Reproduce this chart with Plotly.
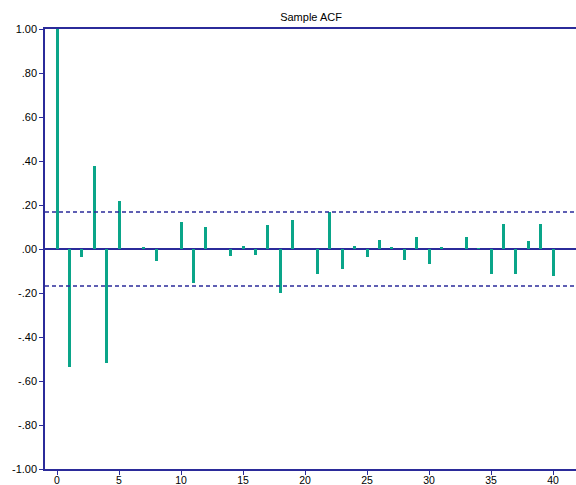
import plotly.graph_objects as go

# Sample autocorrelations by lag
lags = list(range(0, 41))
acf = [1.000, -0.535, -0.038, 0.379, -0.517, 0.218, 0.000, 0.009, -0.053, 0.000,
       0.123, -0.156, 0.101, 0.000, -0.033, 0.015, -0.027, 0.108, -0.198, 0.133,
       0.000, -0.112, 0.168, -0.092, 0.015, -0.038, 0.042, 0.009, -0.048, 0.053,
       -0.070, 0.009, 0.000, 0.053, 0.004, -0.112, 0.112, -0.112, 0.036, 0.112,
       -0.124]
conf_bound = 0.168

y_tickvals = [1.0, 0.8, 0.6, 0.4, 0.2, 0.0, -0.2, -0.4, -0.6, -0.8, -1.0]
y_ticktext = ["1.00", ".80", ".60", ".40", ".20", ".00", "-.20", "-.40", "-.60", "-.80", "-1.00"]
x_tickvals = [0, 5, 10, 15, 20, 25, 30, 35, 40]

navy = "#2b2b9a"
teal = "#0aa589"

fig = go.Figure()
fig.add_trace(go.Bar(x=lags, y=acf, width=0.24, marker=dict(color=teal, line=dict(width=0)),
                     showlegend=False))

for b in (conf_bound, -conf_bound):
    fig.add_shape(type="line", xref="paper", x0=0, x1=1, yref="y", y0=b, y1=b,
                  line=dict(color=navy, width=1.4, dash="4px,3px"))

fig.update_layout(
    width=576, height=485,
    margin=dict(l=45, r=0, t=29, b=16),
    paper_bgcolor="white", plot_bgcolor="white",
    font=dict(family="Liberation Sans, Arial, sans-serif", size=11, color="black"),
    title=dict(text="Sample ACF", x=0.54, xanchor="center", y=0.965, yanchor="middle",
               font=dict(size=11)),
    bargap=0,
    xaxis=dict(range=[-0.97, 41.85], tickvals=x_tickvals, showgrid=False, zeroline=False,
               showline=True, linecolor=navy, linewidth=1.5, mirror=True, automargin=False,
               ticks="outside", ticklen=4, tickcolor=navy, tickwidth=1.2,
               ticklabelstandoff=-3, tickfont=dict(size=10.5)),
    yaxis=dict(range=[-1, 1], tickvals=y_tickvals, ticktext=y_ticktext, showgrid=False,
               zeroline=True, zerolinecolor=navy, zerolinewidth=1.5, automargin=False,
               showline=True, linecolor=navy, linewidth=1.5,
               ticks="outside", ticklen=4, tickcolor=navy, tickwidth=1.2),
)

fig.write_html("out.html")
